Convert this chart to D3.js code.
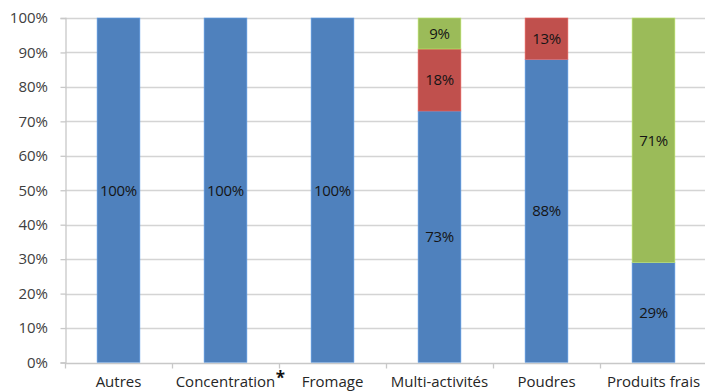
<!DOCTYPE html>
<html>
<head>
<meta charset="utf-8">
<script src="https://cdn.jsdelivr.net/npm/d3@7"></script>
<style>
  html, body { margin: 0; padding: 0; background: #fff; }
  svg { display: block; }
  text { font-family: "Open Sans", "Liberation Sans", sans-serif; }
</style>
</head>
<body>
<svg id="chart" width="705" height="392"></svg>
<script>
// Share of each segment per activity
const categories = ["Autres", "Concentration", "Fromage", "Multi-activités", "Poudres", "Produits frais"];
const seriesBlue  = [100, 100, 100, 73, 88, 29];
const seriesRed   = [0, 0, 0, 18, 13, 0];
const seriesGreen = [0, 0, 0, 9, 0, 71];
const yTicks = [0, 10, 20, 30, 40, 50, 60, 70, 80, 90, 100];
const seriesColors = ["#4F81BD", "#C0504D", "#9BBB59"];
const footnoteMark = { category: "Concentration", mark: "*" };

const FONT = '"Open Sans", "Liberation Sans", sans-serif';
const svg = d3.select("#chart");
const margin = { left: 65, top: 18 };
const W = 705;
const plotBottom = 362.5;

const x = d3.scaleBand().domain(categories).range([margin.left, margin.left + 107 * categories.length]).paddingInner(0.6).paddingOuter(0.3);
const y = d3.scaleLinear().domain([0, 100]).range([plotBottom, margin.top]).clamp(true);

// Gridlines
svg.append("g")
  .selectAll("line")
  .data(yTicks.filter(d => d > 0))
  .join("line")
  .attr("x1", margin.left).attr("x2", W)
  .attr("y1", d => Math.round(y(d)) + 0.5).attr("y2", d => Math.round(y(d)) + 0.5)
  .attr("stroke", "#d4d4d4").attr("stroke-width", 1.3);

// Stacked bars
const rows = categories.map((c, i) => ({ cat: c, blue: seriesBlue[i], red: seriesRed[i], green: seriesGreen[i] }));
const layers = d3.stack().keys(["blue", "red", "green"])(rows);

const bars = svg.append("g");
layers.forEach((layer, li) => {
  layer.forEach(seg => {
    const v = seg[1] - seg[0];
    if (v <= 0) return;
    const y0 = y(seg[0]), y1 = y(seg[1]);
    bars.append("rect")
      .attr("x", x(seg.data.cat))
      .attr("width", x.bandwidth())
      .attr("y", y1)
      .attr("height", y0 - y1)
      .attr("fill", seriesColors[li])
      .attr("stroke", d3.color(seriesColors[li]).brighter(0.6))
      .attr("stroke-width", 0.6);
    bars.append("text")
      .attr("x", x(seg.data.cat) + x.bandwidth() / 2)
      .attr("y", (y0 + y1) / 2)
      .attr("dy", "0.36em")
      .attr("text-anchor", "middle")
      .attr("font-size", 15)
      .attr("letter-spacing", "-0.3px")
      .attr("fill", "#151515")
      .text(v + "%");
  });
});

// Y axis
const yAxis = d3.axisLeft(y).tickValues(yTicks).tickFormat(d => d + "%").tickSize(5).tickPadding(12.5);
const gy = svg.append("g").attr("transform", `translate(${margin.left + 0.5},0)`).call(yAxis);
gy.select(".domain").attr("stroke", "#c8c8c8").attr("stroke-width", 1.3);
gy.selectAll(".tick line").attr("stroke", "#c8c8c8").attr("stroke-width", 1.3);
gy.selectAll(".tick text").attr("font-size", 15).attr("fill", "#404040").attr("font-family", FONT);

// X axis baseline and boundary ticks
const gx = svg.append("g").attr("transform", `translate(0,${Math.round(plotBottom) + 0.5})`);
gx.append("line").attr("x1", margin.left).attr("x2", W).attr("stroke", "#c8c8c8").attr("stroke-width", 1.3);
const step = x.step();
gx.selectAll("line.tk")
  .data(d3.range(categories.length + 1))
  .join("line")
  .attr("class", "tk")
  .attr("x1", i => margin.left + 0.5 + i * step).attr("x2", i => margin.left + 0.5 + i * step)
  .attr("y1", 0).attr("y2", 5)
  .attr("stroke", "#c8c8c8").attr("stroke-width", 1.3);

const xl = svg.append("g");
categories.forEach(c => {
  xl.append("text")
    .attr("x", x(c) + x.bandwidth() / 2)
    .attr("y", 387)
    .attr("text-anchor", "middle")
    .attr("font-size", 15)
    .attr("fill", "#262626")
    .text(c);
});

// Footnote marker after "Concentration"
const cc = x(footnoteMark.category) + x.bandwidth() / 2;
const lbl = xl.selectAll("text").filter(function () { return d3.select(this).text() === footnoteMark.category; });
const bw = lbl.node().getBBox().width;
svg.append("text")
  .attr("x", cc + bw / 2 + 0.5)
  .attr("y", 384)
  .attr("font-size", 17)
  .attr("font-weight", "bold")
  .attr("fill", "#111")
  .text(footnoteMark.mark);
</script>
</body>
</html>
